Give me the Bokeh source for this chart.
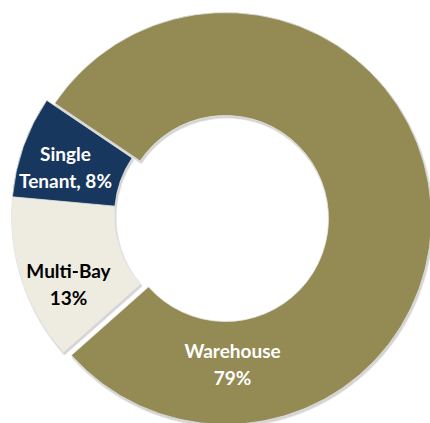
import math
from bokeh.plotting import figure
from bokeh.models import ColumnDataSource
from bokeh.core.properties import value
from bokeh.embed import file_html
from bokeh.resources import INLINE

# ---- data ----
categories = ["Warehouse", "Multi-Bay", "Single Tenant"]
shares = [79, 13, 8]
label_lines = [["Warehouse", "79%"], ["Multi-Bay", "13%"], ["Single", "Tenant, 8%"]]
colors = ["#948A54", "#EEECE1", "#17375E"]
text_colors = ["white", "black", "white"]

# ---- layout (pixel-space, y up) ----
W, H = 430, 423
start_deg = 146.0          # first slice starts here, going clockwise
centers_x = [225, 217, 217]  # exploded slice centres
centers_y = [205, 208, 208]
r_out, r_in = 206, 103
label_x = [232, 68, 65]
label_y = [423 - 363, 423 - 283, 423 - 166]
line_gap = 27

total = float(sum(shares))
starts, ends = [], []
acc = 0.0
for v in shares:
    a0 = start_deg - acc / total * 360.0
    a1 = a0 - v / total * 360.0
    starts.append(math.radians(a0))
    ends.append(math.radians(a1))
    acc += v

src = ColumnDataSource(dict(x=centers_x, y=centers_y, start=starts, end=ends,
                            color=colors, cat=categories))

p = figure(width=W, height=H, x_range=(0, W), y_range=(0, H),
           output_backend="svg", toolbar_location=None, min_border=0)
p.xaxis.visible = False
p.yaxis.visible = False
p.xgrid.grid_line_color = None
p.ygrid.grid_line_color = None
p.outline_line_color = None
p.background_fill_color = "white"
p.border_fill_color = "white"

# soft shadow / edge
shadow = ColumnDataSource(dict(x=[x + 1 for x in centers_x], y=[y - 2 for y in centers_y],
                               start=starts, end=ends))
p.annular_wedge(x="x", y="y", inner_radius=r_in, outer_radius=r_out,
                start_angle="start", end_angle="end", direction="clock",
                source=shadow, fill_color="#bdbdbd", fill_alpha=0.6,
                line_color="#cfcfcf", line_width=2, line_alpha=0.6)
p.annular_wedge(x="x", y="y", inner_radius=r_in, outer_radius=r_out,
                start_angle="start", end_angle="end", direction="clock",
                source=src, fill_color="color", line_color="#e6e6e6", line_width=0.8)

for lines, lx, ly, tc in zip(label_lines, label_x, label_y, text_colors):
    n = len(lines)
    for i, t in enumerate(lines):
        yy = ly + (n - 1) / 2 * line_gap - i * line_gap
        p.text(x=[lx], y=[yy], text=[t], text_align="center", text_baseline="middle",
               text_font=value("Lato"), text_font_style="bold",
               text_font_size="19px", text_color=tc)

open("out.html", "w").write(file_html(p, INLINE))
